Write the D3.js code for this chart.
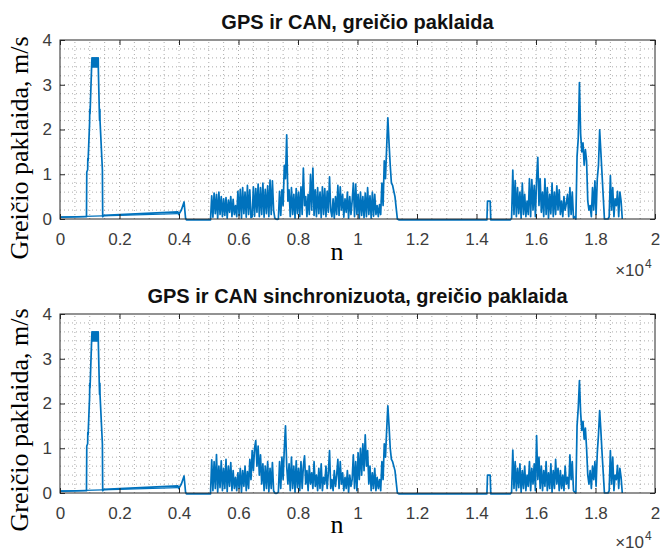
<!DOCTYPE html>
<html>
<head>
<meta charset="utf-8">
<script src="https://cdn.jsdelivr.net/npm/d3@7"></script>
<style>
  body { margin: 0; background: #fff; }
  svg { display: block; }
</style>
</head>
<body>
<svg id="chart" width="660" height="553"></svg>
<script>
// ---- axis ticks and labels ----
const xTickValues = [0, 2000, 4000, 6000, 8000, 10000, 12000, 14000, 16000, 18000, 20000];
const xTickLabels = ["0", "0.2", "0.4", "0.6", "0.8", "1", "1.2", "1.4", "1.6", "1.8", "2"];
const yTickValues = [0, 1, 2, 3, 4];
const yTickLabels = ["0", "1", "2", "3", "4"];
const panelTitles = ["GPS ir CAN, greičio paklaida", "GPS ir CAN sinchronizuota, greičio paklaida"];
const yLabelText = "Greičio paklaida, m/s";
const xLabelText = "n";

// ---- speed error, [n, m/s] ----
// start-up section: acceleration peak, slow drift, short spike
const rampPoints = [
  [0, 0.04], [890, 0.05], [900, 1.05], [930, 1.1], [935, 1.35], [945, 1.3], [995, 2.15], [1000, 2.45], [1010, 2.35],
  [1065, 3.45], [1075, 3.6], [1090, 3.4], [1105, 3.6], [1120, 3.4], [1135, 3.6], [1150, 3.4], [1165, 3.6], [1180, 3.4],
  [1195, 3.6], [1210, 3.4], [1225, 3.6], [1240, 3.4], [1255, 3.6], [1270, 3.4], [1285, 3.6], [1290, 3.3],
  [1320, 2.45], [1330, 2.2], [1340, 2.45], [1345, 2.2], [1425, 1.1], [1435, 0.05],
  [1470, 0.08], [3960, 0.16], [3990, 0.1], [4080, 0.2], [4170, 0.38], [4220, 0.02], [4250, -0.02], [5060, -0.02]
];
const driftPoints = [[0, 0.04], [3960, 0.12]];
// standstill between the two driving sections
const quietPoints = [[11400, -0.02], [14350, -0.02], [14370, 0.4], [14460, 0.4], [14480, -0.02], [15140, -0.02]];

// driving sections, sampled every sampleStep indices
const sampleStep = 40;
const burstStartA = 5100;
const burstStartB = 15180;

const rawBurstA = [
  0.52,0.04,0.58,0.12,0.55,0.02,0.6,0.1,0.5,0.05,
  0.45,0.08,0.48,0.02,0.42,0.15,0.5,0.05,0.44,0.1,
  0.3,0.05,0.62,0.08,0.66,0.02,0.7,0.12,0.6,0.04,
  0.75,0.1,0.65,0.03,0.05,0.72,0.06,0.68,0.15,0.78,
  0.05,0.7,0.1,0.8,0.04,0.66,0.12,0.74,0.05,0.87,
  0.1,0.85,0.2,0.02,0.0,-0.01,0.0,0.62,0.08,0.65,
  0.3,1.2,0.9,1.88,0.4,0.65,0.05,0.7,0.1,0.55,
  0.02,0.68,0.12,0.6,0.05,0.72,0.1,1.14,0.3,0.5,
  0.05,0.55,0.1,1.0,0.2,1.14,0.08,0.65,0.05,0.7,
  0.12,0.6,0.03,0.72,0.1,0.68,0.05,0.62,0.15,0.94,
  0.2,0.05,0.45,0.02,0.5,0.1,0.75,0.08,0.72,0.2,
  0.55,0.04,0.45,0.15,0.6,0.02,0.5,0.1,0.4,0.8,
  0.05,0.78,0.1,0.55,0.02,0.6,0.08,0.5,0.03,0.58,
  0.05,0.7,0.1,0.52,0.02,0.6,0.06,0.55,0.1,0.3,
  0.05,0.32,0.1,0.8,0.3,1.3,0.9,1.6,2.26,1.7,
  1.2,0.8,0.75,0.62,0.5,0.25,0.0
];
const rawBurstB = [
  0.02,1.09,0.1,0.86,0.05,0.7,0.12,0.6,0.02,0.8,
  0.1,0.55,0.05,0.4,0.1,0.9,0.05,0.88,0.2,0.75,
  0.05,0.9,1.38,0.3,0.9,0.15,0.6,0.05,0.9,0.1,
  0.7,0.02,0.55,0.12,0.8,0.05,0.6,0.1,0.74,0.2,
  0.65,0.1,0.4,0.05,0.5,0.2,0.35,0.55,0.05,0.7,
  0.1,0.6,0.02,0.05,0.0,1.4,1.8,3.05,1.9,1.5,
  1.7,1.2,1.55,1.3,0.4,0.2,0.3,0.05,0.7,0.2,
  0.85,0.1,0.9,1.2,1.99,1.5,1.0,0.5,0.0,0.0,
  0.0,0.0,0.05,0.97,0.2,0.7,0.05,0.45,0.3,0.62,
  0.05,0.6,0.4,0.0
];
const syncBurstA = [
  0.74,0.05,0.7,0.1,0.86,0.02,0.6,0.12,0.72,0.05,
  0.55,0.1,0.75,0.03,0.6,0.15,0.68,0.05,0.5,0.1,
  0.35,0.05,0.45,0.1,0.55,0.02,0.5,0.15,0.6,0.05,
  0.48,0.1,0.75,0.3,0.95,0.5,1.0,1.17,0.6,1.05,
  0.4,0.85,0.2,0.65,0.05,0.6,0.1,0.7,0.03,0.55,
  0.1,0.68,0.05,0.0,-0.01,0.0,0.02,0.7,0.1,0.8,
  0.3,1.0,1.5,0.6,0.2,0.65,0.05,0.8,0.1,0.6,
  0.02,0.72,0.12,0.55,0.05,0.7,0.1,0.6,0.83,0.2,
  0.5,0.05,0.6,0.2,0.45,0.1,0.7,0.15,0.4,0.05,
  0.55,0.1,0.65,0.05,0.35,0.2,0.6,0.1,0.45,0.95,
  0.1,0.3,0.05,0.5,0.15,0.4,0.75,0.1,0.7,0.2,
  0.45,0.05,0.35,0.1,0.5,0.02,0.4,0.15,0.3,0.85,
  0.1,0.7,0.05,0.9,0.3,1.0,0.4,1.1,0.5,1.3,
  0.6,0.95,0.2,0.6,0.05,0.45,0.1,0.55,0.05,0.35,
  0.1,0.3,0.05,0.7,0.3,1.1,0.8,1.4,1.95,1.5,
  1.0,0.75,0.7,0.6,0.5,0.25,0.0
];
const syncBurstB = [
  0.02,0.96,0.1,0.7,0.05,0.55,0.12,0.65,0.02,0.5,
  0.1,0.6,0.05,0.4,0.15,0.7,0.05,0.55,0.2,0.65,
  0.05,1.28,0.3,0.8,0.1,0.6,0.05,0.5,0.15,0.7,
  0.05,0.45,0.1,0.65,0.02,0.5,0.1,0.75,0.2,0.55,
  0.05,0.5,0.1,0.4,0.05,0.6,0.2,0.35,0.1,0.85,
  0.3,0.7,0.05,0.02,0.0,1.5,1.9,2.51,1.8,1.4,
  1.6,1.2,1.45,1.0,0.4,0.2,0.5,0.1,0.6,0.3,
  0.7,0.15,0.9,1.3,1.84,1.4,0.9,0.45,0.0,0.0,
  0.0,0.0,0.05,0.95,0.2,0.8,0.05,0.4,0.3,0.62,
  0.1,0.55,0.35,0.0
];

// ---- assemble the two series ----
function sampled(start, values) {
  return values.map((v, i) => [start + i * sampleStep, v]);
}
function series(burstA, burstB) {
  return [].concat(rampPoints, sampled(burstStartA, burstA), quietPoints, sampled(burstStartB, burstB));
}
const panels = [
  { title: panelTitles[0], data: series(rawBurstA, rawBurstB), top: 40, bottom: 219, titleY: 29, yLabelY: 148, xLabelY: 260, expY: 276 },
  { title: panelTitles[1], data: series(syncBurstA, syncBurstB), top: 314, bottom: 493, titleY: 303, yLabelY: 420, xLabelY: 533, expY: 548 }
];

// ---- drawing ----
const svg = d3.select("#chart");
const left = 60, right = 655;
const lineColor = "#0072BD";
const axisColor = "#262626";
const tickTextColor = "#3c3c3c";
const sansFont = "'Liberation Sans', Arial, Helvetica, sans-serif";
const serifFont = "'Liberation Serif', 'Times New Roman', serif";

const x = d3.scaleLinear().domain([0, 20000]).range([left, right]);

panels.forEach(p => {
  const y = d3.scaleLinear().domain([0, 4]).range([p.bottom, p.top]);
  const g = svg.append("g");

  // minor and major grid, dotted
  const minorX = d3.range(0, 20001, 500);
  const minorY = d3.range(0, 4.001, 0.2);
  const grid = g.append("g").attr("stroke", "#8c8c8c").attr("stroke-width", 0.9)
    .attr("stroke-dasharray", "1 3").attr("opacity", 0.8);
  grid.selectAll("line.gx").data(minorX.filter(v => v > 0 && v < 20000)).join("line")
    .attr("x1", d => x(d)).attr("x2", d => x(d)).attr("y1", p.bottom).attr("y2", p.top);
  grid.selectAll("line.gy").data(minorY.filter(v => v > 0.01 && v < 3.99)).join("line")
    .attr("x1", left).attr("x2", right).attr("y1", d => y(d)).attr("y2", d => y(d));

  // data lines
  const line = d3.line().x(d => x(d[0])).y(d => y(d[1]));
  g.append("path").datum(driftPoints).attr("d", line)
    .attr("fill", "none").attr("stroke", lineColor).attr("stroke-width", 1.3);
  g.append("path").datum(p.data).attr("d", line)
    .attr("fill", "none").attr("stroke", lineColor).attr("stroke-width", 1.7)
    .attr("stroke-linejoin", "round");

  // axes with inward ticks on all sides
  const bottomAxis = d3.axisBottom(x).tickValues(xTickValues)
    .tickFormat((d, i) => xTickLabels[i]).tickSizeInner(-5).tickSizeOuter(0).tickPadding(14);
  const topAxis = d3.axisTop(x).tickValues(xTickValues).tickFormat("").tickSizeInner(-5).tickSizeOuter(0);
  const leftAxis = d3.axisLeft(y).tickValues(yTickValues)
    .tickFormat((d, i) => yTickLabels[i]).tickSizeInner(-5).tickSizeOuter(0).tickPadding(8);
  const rightAxis = d3.axisRight(y).tickValues(yTickValues).tickFormat("").tickSizeInner(-5).tickSizeOuter(0);

  const axes = [
    g.append("g").attr("transform", `translate(0,${p.bottom})`).call(bottomAxis),
    g.append("g").attr("transform", `translate(0,${p.top})`).call(topAxis),
    g.append("g").attr("transform", `translate(${left},0)`).call(leftAxis),
    g.append("g").attr("transform", `translate(${right},0)`).call(rightAxis)
  ];
  axes.forEach(a => {
    a.select(".domain").remove();
    a.selectAll(".tick line").attr("stroke", axisColor);
    a.selectAll(".tick text").attr("fill", tickTextColor)
      .style("font-family", sansFont).style("font-size", "17px");
  });

  g.append("rect").attr("x", left).attr("y", p.top)
    .attr("width", right - left).attr("height", p.bottom - p.top)
    .attr("fill", "none").attr("stroke", axisColor).attr("stroke-width", 1);

  // title
  g.append("text").attr("x", (left + right) / 2).attr("y", p.titleY)
    .attr("text-anchor", "middle").attr("fill", "#111")
    .style("font-family", sansFont).style("font-weight", "bold").style("font-size", "20px")
    .text(p.title);

  // axis labels
  g.append("text").attr("transform", `translate(28,${p.yLabelY}) rotate(-90)`)
    .attr("text-anchor", "middle").attr("fill", "#000")
    .style("font-family", serifFont).style("font-size", "26px")
    .text(yLabelText);
  g.append("text").attr("x", 337).attr("y", p.xLabelY)
    .attr("text-anchor", "middle").attr("fill", "#000")
    .style("font-family", serifFont).style("font-size", "26px")
    .text(xLabelText);

  // exponent marker
  g.append("text").attr("x", 644).attr("y", p.expY)
    .attr("text-anchor", "end").attr("fill", tickTextColor)
    .style("font-family", sansFont).style("font-size", "17px")
    .text("×10");
  g.append("text").attr("x", 645).attr("y", p.expY - 8)
    .attr("fill", tickTextColor)
    .style("font-family", sansFont).style("font-size", "12px")
    .text("4");
});
</script>
</body>
</html>
